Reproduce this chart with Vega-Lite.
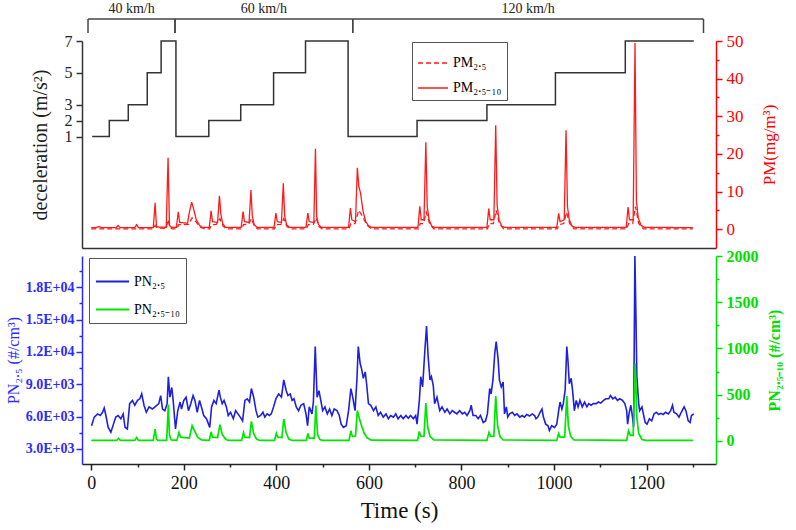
{
  "$schema": "https://vega.github.io/schema/vega-lite/v6.json",
  "description": "Deceleration steps with PM mass and PN number concentrations over time.",
  "background": "white",
  "padding": {"left": 5, "top": 2, "right": 4, "bottom": 2},
  "config": {
    "font": "Liberation Serif",
    "view": {"stroke": null},
    "axis": {"grid": false, "labelFont": "Liberation Serif", "titleFont": "Liberation Serif", "titleFontWeight": "normal", "domainWidth": 1.5, "tickWidth": 1.5, "labelOverlap": false}
  },
  "datasets": {
    "spd": [
      {"speed": "40 km/h", "from": -7, "to": 181},
      {"speed": "60 km/h", "from": 181, "to": 565},
      {"speed": "120 km/h", "from": 565, "to": 1323}
    ],
    "dec": [
      {"t": 2, "a": 1}, {"t": 39, "a": 2}, {"t": 80, "a": 3}, {"t": 121, "a": 5}, {"t": 151, "a": 7},
      {"t": 183, "a": 1}, {"t": 254, "a": 2}, {"t": 323, "a": 3}, {"t": 394, "a": 5}, {"t": 463, "a": 7},
      {"t": 555, "a": 1}, {"t": 704, "a": 2}, {"t": 855, "a": 3}, {"t": 1003, "a": 5}, {"t": 1154, "a": 7},
      {"t": 1302, "a": 7}
    ],
    "pm": [
      {"t": 0, "s": "PM₂.₅", "v": 0.1}, {"t": 134, "s": "PM₂.₅", "v": 0.1}, {"t": 138, "s": "PM₂.₅", "v": 1.0}, {"t": 142, "s": "PM₂.₅", "v": 0.3},
      {"t": 162, "s": "PM₂.₅", "v": 0.2}, {"t": 166, "s": "PM₂.₅", "v": 2.5}, {"t": 170, "s": "PM₂.₅", "v": 0.5}, {"t": 175, "s": "PM₂.₅", "v": 0.1},
      {"t": 185, "s": "PM₂.₅", "v": 0.1}, {"t": 189, "s": "PM₂.₅", "v": 1.2}, {"t": 193, "s": "PM₂.₅", "v": 1.2}, {"t": 210, "s": "PM₂.₅", "v": 1.3},
      {"t": 218, "s": "PM₂.₅", "v": 3.0}, {"t": 226, "s": "PM₂.₅", "v": 2.0}, {"t": 236, "s": "PM₂.₅", "v": 0.5}, {"t": 245, "s": "PM₂.₅", "v": 0.1},
      {"t": 256, "s": "PM₂.₅", "v": 0.1}, {"t": 260, "s": "PM₂.₅", "v": 1.2}, {"t": 270, "s": "PM₂.₅", "v": 1.3}, {"t": 278, "s": "PM₂.₅", "v": 2.8},
      {"t": 285, "s": "PM₂.₅", "v": 0.8}, {"t": 292, "s": "PM₂.₅", "v": 0.1}, {"t": 325, "s": "PM₂.₅", "v": 0.1}, {"t": 329, "s": "PM₂.₅", "v": 1.2},
      {"t": 340, "s": "PM₂.₅", "v": 1.3}, {"t": 346, "s": "PM₂.₅", "v": 2.8}, {"t": 353, "s": "PM₂.₅", "v": 0.7}, {"t": 360, "s": "PM₂.₅", "v": 0.1},
      {"t": 396, "s": "PM₂.₅", "v": 0.1}, {"t": 400, "s": "PM₂.₅", "v": 1.2}, {"t": 410, "s": "PM₂.₅", "v": 1.3}, {"t": 416, "s": "PM₂.₅", "v": 2.8},
      {"t": 423, "s": "PM₂.₅", "v": 0.7}, {"t": 430, "s": "PM₂.₅", "v": 0.1}, {"t": 465, "s": "PM₂.₅", "v": 0.1}, {"t": 469, "s": "PM₂.₅", "v": 1.2},
      {"t": 480, "s": "PM₂.₅", "v": 1.3}, {"t": 486, "s": "PM₂.₅", "v": 3.0}, {"t": 492, "s": "PM₂.₅", "v": 0.7}, {"t": 499, "s": "PM₂.₅", "v": 0.1},
      {"t": 557, "s": "PM₂.₅", "v": 0.1}, {"t": 561, "s": "PM₂.₅", "v": 1.5}, {"t": 570, "s": "PM₂.₅", "v": 1.5}, {"t": 578, "s": "PM₂.₅", "v": 5.0},
      {"t": 586, "s": "PM₂.₅", "v": 3.5}, {"t": 595, "s": "PM₂.₅", "v": 1.2}, {"t": 605, "s": "PM₂.₅", "v": 0.1}, {"t": 707, "s": "PM₂.₅", "v": 0.1},
      {"t": 711, "s": "PM₂.₅", "v": 1.5}, {"t": 718, "s": "PM₂.₅", "v": 1.5}, {"t": 724, "s": "PM₂.₅", "v": 4.5}, {"t": 731, "s": "PM₂.₅", "v": 1.5},
      {"t": 740, "s": "PM₂.₅", "v": 0.1}, {"t": 856, "s": "PM₂.₅", "v": 0.1}, {"t": 860, "s": "PM₂.₅", "v": 1.5}, {"t": 869, "s": "PM₂.₅", "v": 1.5},
      {"t": 875, "s": "PM₂.₅", "v": 5.0}, {"t": 882, "s": "PM₂.₅", "v": 1.5}, {"t": 891, "s": "PM₂.₅", "v": 0.1}, {"t": 1007, "s": "PM₂.₅", "v": 0.1},
      {"t": 1011, "s": "PM₂.₅", "v": 1.2}, {"t": 1021, "s": "PM₂.₅", "v": 1.5}, {"t": 1027, "s": "PM₂.₅", "v": 4.5}, {"t": 1034, "s": "PM₂.₅", "v": 1.5},
      {"t": 1043, "s": "PM₂.₅", "v": 0.1}, {"t": 1157, "s": "PM₂.₅", "v": 0.1}, {"t": 1161, "s": "PM₂.₅", "v": 1.5}, {"t": 1170, "s": "PM₂.₅", "v": 1.5},
      {"t": 1176, "s": "PM₂.₅", "v": 6.0}, {"t": 1183, "s": "PM₂.₅", "v": 1.5}, {"t": 1193, "s": "PM₂.₅", "v": 0.1}, {"t": 1300, "s": "PM₂.₅", "v": 0.1},
      {"t": 0, "s": "PM₂.₅₋₁₀", "v": 0.4}, {"t": 10, "s": "PM₂.₅₋₁₀", "v": 0.4}, {"t": 17, "s": "PM₂.₅₋₁₀", "v": 0.7}, {"t": 22, "s": "PM₂.₅₋₁₀", "v": 0.4},
      {"t": 54, "s": "PM₂.₅₋₁₀", "v": 0.4}, {"t": 58, "s": "PM₂.₅₋₁₀", "v": 1.0}, {"t": 62, "s": "PM₂.₅₋₁₀", "v": 0.4}, {"t": 94, "s": "PM₂.₅₋₁₀", "v": 0.4},
      {"t": 98, "s": "PM₂.₅₋₁₀", "v": 1.2}, {"t": 102, "s": "PM₂.₅₋₁₀", "v": 0.4}, {"t": 134, "s": "PM₂.₅₋₁₀", "v": 0.4}, {"t": 138, "s": "PM₂.₅₋₁₀", "v": 7.0},
      {"t": 141, "s": "PM₂.₅₋₁₀", "v": 0.6}, {"t": 162, "s": "PM₂.₅₋₁₀", "v": 0.5}, {"t": 166, "s": "PM₂.₅₋₁₀", "v": 19}, {"t": 169, "s": "PM₂.₅₋₁₀", "v": 1.0},
      {"t": 173, "s": "PM₂.₅₋₁₀", "v": 0.5}, {"t": 184, "s": "PM₂.₅₋₁₀", "v": 0.5}, {"t": 188, "s": "PM₂.₅₋₁₀", "v": 4.6}, {"t": 191, "s": "PM₂.₅₋₁₀", "v": 1.8},
      {"t": 208, "s": "PM₂.₅₋₁₀", "v": 1.6}, {"t": 212, "s": "PM₂.₅₋₁₀", "v": 4.5}, {"t": 217, "s": "PM₂.₅₋₁₀", "v": 7.2}, {"t": 222, "s": "PM₂.₅₋₁₀", "v": 5.0},
      {"t": 227, "s": "PM₂.₅₋₁₀", "v": 2.5}, {"t": 234, "s": "PM₂.₅₋₁₀", "v": 1.0}, {"t": 240, "s": "PM₂.₅₋₁₀", "v": 0.5}, {"t": 255, "s": "PM₂.₅₋₁₀", "v": 0.5},
      {"t": 259, "s": "PM₂.₅₋₁₀", "v": 4.9}, {"t": 262, "s": "PM₂.₅₋₁₀", "v": 2.0}, {"t": 273, "s": "PM₂.₅₋₁₀", "v": 1.8}, {"t": 277, "s": "PM₂.₅₋₁₀", "v": 8.9},
      {"t": 280, "s": "PM₂.₅₋₁₀", "v": 4.0}, {"t": 284, "s": "PM₂.₅₋₁₀", "v": 1.5}, {"t": 290, "s": "PM₂.₅₋₁₀", "v": 0.5}, {"t": 324, "s": "PM₂.₅₋₁₀", "v": 0.5},
      {"t": 328, "s": "PM₂.₅₋₁₀", "v": 4.7}, {"t": 331, "s": "PM₂.₅₋₁₀", "v": 2.0}, {"t": 341, "s": "PM₂.₅₋₁₀", "v": 1.8}, {"t": 345, "s": "PM₂.₅₋₁₀", "v": 10.4},
      {"t": 348, "s": "PM₂.₅₋₁₀", "v": 3.5}, {"t": 352, "s": "PM₂.₅₋₁₀", "v": 1.2}, {"t": 358, "s": "PM₂.₅₋₁₀", "v": 0.5}, {"t": 395, "s": "PM₂.₅₋₁₀", "v": 0.5},
      {"t": 399, "s": "PM₂.₅₋₁₀", "v": 4.3}, {"t": 402, "s": "PM₂.₅₋₁₀", "v": 2.0}, {"t": 411, "s": "PM₂.₅₋₁₀", "v": 1.8}, {"t": 415, "s": "PM₂.₅₋₁₀", "v": 12.2},
      {"t": 418, "s": "PM₂.₅₋₁₀", "v": 3.5}, {"t": 422, "s": "PM₂.₅₋₁₀", "v": 1.2}, {"t": 428, "s": "PM₂.₅₋₁₀", "v": 0.5}, {"t": 464, "s": "PM₂.₅₋₁₀", "v": 0.5},
      {"t": 468, "s": "PM₂.₅₋₁₀", "v": 4.3}, {"t": 471, "s": "PM₂.₅₋₁₀", "v": 2.0}, {"t": 481, "s": "PM₂.₅₋₁₀", "v": 1.8}, {"t": 484.5, "s": "PM₂.₅₋₁₀", "v": 21.4},
      {"t": 487, "s": "PM₂.₅₋₁₀", "v": 3.5}, {"t": 491, "s": "PM₂.₅₋₁₀", "v": 1.2}, {"t": 497, "s": "PM₂.₅₋₁₀", "v": 0.5}, {"t": 556, "s": "PM₂.₅₋₁₀", "v": 0.5},
      {"t": 560, "s": "PM₂.₅₋₁₀", "v": 5.6}, {"t": 563, "s": "PM₂.₅₋₁₀", "v": 2.5}, {"t": 571, "s": "PM₂.₅₋₁₀", "v": 2.0}, {"t": 575, "s": "PM₂.₅₋₁₀", "v": 16.3},
      {"t": 578, "s": "PM₂.₅₋₁₀", "v": 11.5}, {"t": 582, "s": "PM₂.₅₋₁₀", "v": 9.5}, {"t": 587, "s": "PM₂.₅₋₁₀", "v": 5.0}, {"t": 593, "s": "PM₂.₅₋₁₀", "v": 2.0},
      {"t": 600, "s": "PM₂.₅₋₁₀", "v": 0.8}, {"t": 606, "s": "PM₂.₅₋₁₀", "v": 0.5}, {"t": 706, "s": "PM₂.₅₋₁₀", "v": 0.5}, {"t": 710, "s": "PM₂.₅₋₁₀", "v": 6.1},
      {"t": 713, "s": "PM₂.₅₋₁₀", "v": 2.5}, {"t": 719, "s": "PM₂.₅₋₁₀", "v": 2.5}, {"t": 723, "s": "PM₂.₅₋₁₀", "v": 23.1}, {"t": 726, "s": "PM₂.₅₋₁₀", "v": 6.0},
      {"t": 730, "s": "PM₂.₅₋₁₀", "v": 2.5}, {"t": 736, "s": "PM₂.₅₋₁₀", "v": 0.8}, {"t": 742, "s": "PM₂.₅₋₁₀", "v": 0.5}, {"t": 855, "s": "PM₂.₅₋₁₀", "v": 0.5},
      {"t": 859, "s": "PM₂.₅₋₁₀", "v": 5.5}, {"t": 862, "s": "PM₂.₅₋₁₀", "v": 2.5}, {"t": 870, "s": "PM₂.₅₋₁₀", "v": 2.5}, {"t": 874, "s": "PM₂.₅₋₁₀", "v": 27.6},
      {"t": 877, "s": "PM₂.₅₋₁₀", "v": 6.5}, {"t": 881, "s": "PM₂.₅₋₁₀", "v": 2.5}, {"t": 887, "s": "PM₂.₅₋₁₀", "v": 0.8}, {"t": 893, "s": "PM₂.₅₋₁₀", "v": 0.5},
      {"t": 1006, "s": "PM₂.₅₋₁₀", "v": 0.5}, {"t": 1010, "s": "PM₂.₅₋₁₀", "v": 4.2}, {"t": 1013, "s": "PM₂.₅₋₁₀", "v": 2.0}, {"t": 1022, "s": "PM₂.₅₋₁₀", "v": 2.5},
      {"t": 1026, "s": "PM₂.₅₋₁₀", "v": 26.3}, {"t": 1029, "s": "PM₂.₅₋₁₀", "v": 6.0}, {"t": 1033, "s": "PM₂.₅₋₁₀", "v": 2.5}, {"t": 1039, "s": "PM₂.₅₋₁₀", "v": 0.8},
      {"t": 1045, "s": "PM₂.₅₋₁₀", "v": 0.5}, {"t": 1156, "s": "PM₂.₅₋₁₀", "v": 0.5}, {"t": 1160, "s": "PM₂.₅₋₁₀", "v": 5.9}, {"t": 1163, "s": "PM₂.₅₋₁₀", "v": 2.5},
      {"t": 1171, "s": "PM₂.₅₋₁₀", "v": 2.5}, {"t": 1175, "s": "PM₂.₅₋₁₀", "v": 49.5}, {"t": 1178, "s": "PM₂.₅₋₁₀", "v": 7.5}, {"t": 1182, "s": "PM₂.₅₋₁₀", "v": 3.0},
      {"t": 1188, "s": "PM₂.₅₋₁₀", "v": 1.0}, {"t": 1195, "s": "PM₂.₅₋₁₀", "v": 0.5}, {"t": 1300, "s": "PM₂.₅₋₁₀", "v": 0.4}
    ],
    "pn": [
      {"t": 0.7, "v": 5150}, {"t": 6.5, "v": 5950}, {"t": 13.6, "v": 6250}, {"t": 19.4, "v": 6100}, {"t": 24.4, "v": 6400}, {"t": 28, "v": 6800},
      {"t": 31.6, "v": 6100}, {"t": 36.6, "v": 5000}, {"t": 42.4, "v": 4550}, {"t": 48, "v": 5300}, {"t": 53, "v": 5950}, {"t": 58, "v": 6100},
      {"t": 64, "v": 5800}, {"t": 69, "v": 6250}, {"t": 73, "v": 5000}, {"t": 78, "v": 4850}, {"t": 83, "v": 7200}, {"t": 89, "v": 7500},
      {"t": 94, "v": 7050}, {"t": 100, "v": 7500}, {"t": 105, "v": 7650}, {"t": 109, "v": 8100}, {"t": 114, "v": 7050}, {"t": 119, "v": 6400},
      {"t": 125, "v": 6900}, {"t": 132, "v": 6700}, {"t": 139, "v": 6950}, {"t": 146, "v": 7200}, {"t": 150, "v": 7950}, {"t": 154, "v": 6700},
      {"t": 159, "v": 6550}, {"t": 164, "v": 7200}, {"t": 166.6, "v": 9700}, {"t": 170, "v": 7800}, {"t": 174, "v": 8700}, {"t": 177, "v": 7500},
      {"t": 182, "v": 4850}, {"t": 187, "v": 6550}, {"t": 192, "v": 7350}, {"t": 195, "v": 6700}, {"t": 200, "v": 7500}, {"t": 205, "v": 7800},
      {"t": 210, "v": 6550}, {"t": 215, "v": 7200}, {"t": 220, "v": 7950}, {"t": 224, "v": 7500}, {"t": 229, "v": 6400}, {"t": 234, "v": 7500},
      {"t": 238, "v": 6900}, {"t": 243, "v": 6100}, {"t": 249, "v": 5800}, {"t": 256, "v": 5000}, {"t": 260, "v": 6900}, {"t": 265, "v": 7500},
      {"t": 270, "v": 7200}, {"t": 276, "v": 8450}, {"t": 279, "v": 7800}, {"t": 283, "v": 7200}, {"t": 287, "v": 7500}, {"t": 292, "v": 6900},
      {"t": 296, "v": 6100}, {"t": 301, "v": 6400}, {"t": 307, "v": 5800}, {"t": 312, "v": 6550}, {"t": 317, "v": 6250}, {"t": 322, "v": 5950},
      {"t": 327, "v": 5600}, {"t": 332, "v": 7500}, {"t": 337, "v": 7650}, {"t": 342, "v": 7350}, {"t": 346, "v": 8600}, {"t": 351, "v": 7800},
      {"t": 356, "v": 6550}, {"t": 360, "v": 5950}, {"t": 366, "v": 6100}, {"t": 371, "v": 6400}, {"t": 375, "v": 5950}, {"t": 380, "v": 6250},
      {"t": 385, "v": 6100}, {"t": 389, "v": 6250}, {"t": 394, "v": 6900}, {"t": 399, "v": 7650}, {"t": 405, "v": 8100}, {"t": 411, "v": 7800},
      {"t": 416, "v": 9400}, {"t": 421, "v": 8450}, {"t": 425, "v": 7950}, {"t": 430, "v": 8100}, {"t": 434, "v": 7500}, {"t": 438, "v": 7650},
      {"t": 443, "v": 6900}, {"t": 448, "v": 6550}, {"t": 453, "v": 7050}, {"t": 459, "v": 7200}, {"t": 464, "v": 6250}, {"t": 467.5, "v": 5150},
      {"t": 471, "v": 6900}, {"t": 477, "v": 6250}, {"t": 480, "v": 7350}, {"t": 484, "v": 12500}, {"t": 488, "v": 7800}, {"t": 492, "v": 8400},
      {"t": 496, "v": 7500}, {"t": 500, "v": 6550}, {"t": 505, "v": 6900}, {"t": 510, "v": 6250}, {"t": 515, "v": 6700}, {"t": 520, "v": 6100},
      {"t": 525, "v": 6700}, {"t": 531, "v": 6550}, {"t": 536, "v": 6100}, {"t": 540, "v": 5300}, {"t": 545, "v": 5000}, {"t": 551, "v": 5150},
      {"t": 556, "v": 6550}, {"t": 561, "v": 8600}, {"t": 565, "v": 7800}, {"t": 570, "v": 6550}, {"t": 574, "v": 9400}, {"t": 577, "v": 12500},
      {"t": 581, "v": 10950}, {"t": 584, "v": 10450}, {"t": 588, "v": 9550}, {"t": 592, "v": 10150}, {"t": 595, "v": 9050}, {"t": 599, "v": 7200},
      {"t": 604, "v": 7050}, {"t": 610, "v": 6550}, {"t": 615, "v": 6900}, {"t": 620, "v": 6100}, {"t": 625, "v": 6400}, {"t": 631, "v": 5950},
      {"t": 637, "v": 6250}, {"t": 642, "v": 5800}, {"t": 647, "v": 6100}, {"t": 653, "v": 5950}, {"t": 658, "v": 6250}, {"t": 663, "v": 5800},
      {"t": 669, "v": 6100}, {"t": 674, "v": 5800}, {"t": 680, "v": 6100}, {"t": 685, "v": 5850}, {"t": 690, "v": 6100}, {"t": 696, "v": 5800},
      {"t": 701, "v": 6100}, {"t": 704, "v": 5300}, {"t": 709, "v": 7500}, {"t": 712, "v": 9700}, {"t": 716, "v": 8750}, {"t": 721, "v": 12200},
      {"t": 724.5, "v": 14400}, {"t": 728, "v": 11550}, {"t": 732, "v": 9400}, {"t": 735, "v": 9700}, {"t": 739, "v": 8900}, {"t": 742, "v": 7200},
      {"t": 747, "v": 7800}, {"t": 753, "v": 6550}, {"t": 758, "v": 6900}, {"t": 764, "v": 6400}, {"t": 769, "v": 6700}, {"t": 775, "v": 6250},
      {"t": 780, "v": 6550}, {"t": 785, "v": 6400}, {"t": 790, "v": 6250}, {"t": 796, "v": 6550}, {"t": 802, "v": 6250}, {"t": 807, "v": 6400},
      {"t": 812, "v": 6100}, {"t": 818, "v": 6550}, {"t": 821, "v": 7050}, {"t": 825, "v": 6100}, {"t": 831, "v": 6100}, {"t": 836, "v": 5800},
      {"t": 841, "v": 6100}, {"t": 847, "v": 5450}, {"t": 852, "v": 5600}, {"t": 856, "v": 6250}, {"t": 861, "v": 8600}, {"t": 864, "v": 8100},
      {"t": 868, "v": 9400}, {"t": 872, "v": 11900}, {"t": 875, "v": 12950}, {"t": 879, "v": 11400}, {"t": 882, "v": 9400}, {"t": 886, "v": 8750},
      {"t": 890, "v": 9200}, {"t": 893, "v": 6250}, {"t": 897, "v": 6900}, {"t": 900, "v": 5950}, {"t": 904, "v": 6250}, {"t": 910, "v": 6400},
      {"t": 915, "v": 6100}, {"t": 920, "v": 6250}, {"t": 926, "v": 5950}, {"t": 931, "v": 6100}, {"t": 936, "v": 5950}, {"t": 941, "v": 6200},
      {"t": 947, "v": 6050}, {"t": 953, "v": 6250}, {"t": 958, "v": 6100}, {"t": 961, "v": 5800}, {"t": 965, "v": 5950}, {"t": 970, "v": 6400},
      {"t": 974, "v": 6700}, {"t": 977, "v": 5950}, {"t": 982, "v": 5300}, {"t": 987, "v": 5150}, {"t": 990, "v": 4700}, {"t": 995, "v": 5150},
      {"t": 1001, "v": 5000}, {"t": 1006, "v": 5300}, {"t": 1010, "v": 6550}, {"t": 1013, "v": 7350}, {"t": 1017, "v": 6700}, {"t": 1020, "v": 7200},
      {"t": 1024, "v": 8450}, {"t": 1027.6, "v": 12500}, {"t": 1030, "v": 11250}, {"t": 1033, "v": 9050}, {"t": 1037, "v": 9550}, {"t": 1040, "v": 8450},
      {"t": 1044, "v": 6550}, {"t": 1048, "v": 7500}, {"t": 1052, "v": 6900}, {"t": 1056, "v": 7500}, {"t": 1061, "v": 6900}, {"t": 1066, "v": 7350},
      {"t": 1071, "v": 6900}, {"t": 1075, "v": 7200}, {"t": 1080, "v": 7050}, {"t": 1085, "v": 7200}, {"t": 1091, "v": 7200}, {"t": 1096, "v": 7350},
      {"t": 1101, "v": 7250}, {"t": 1107, "v": 7500}, {"t": 1112, "v": 7650}, {"t": 1118, "v": 7650}, {"t": 1122, "v": 7950}, {"t": 1127, "v": 7650},
      {"t": 1132, "v": 7800}, {"t": 1137, "v": 7500}, {"t": 1142, "v": 7650}, {"t": 1148, "v": 7500}, {"t": 1153, "v": 7200}, {"t": 1157, "v": 6550},
      {"t": 1159, "v": 5300}, {"t": 1162, "v": 6250}, {"t": 1166, "v": 7050}, {"t": 1170, "v": 5800}, {"t": 1172, "v": 5000}, {"t": 1174.7, "v": 20900},
      {"t": 1177, "v": 15300}, {"t": 1179, "v": 9700}, {"t": 1183, "v": 7200}, {"t": 1185, "v": 6550}, {"t": 1190, "v": 6900}, {"t": 1193, "v": 6250},
      {"t": 1197, "v": 5450}, {"t": 1201, "v": 5300}, {"t": 1206, "v": 5800}, {"t": 1211, "v": 5600}, {"t": 1216, "v": 6250}, {"t": 1221, "v": 6400},
      {"t": 1226, "v": 6200}, {"t": 1231, "v": 6300}, {"t": 1236, "v": 6200}, {"t": 1241, "v": 6400}, {"t": 1247, "v": 6250}, {"t": 1252, "v": 6550},
      {"t": 1256, "v": 7050}, {"t": 1259, "v": 6400}, {"t": 1265, "v": 6250}, {"t": 1270, "v": 5950}, {"t": 1275, "v": 6400}, {"t": 1281, "v": 6900},
      {"t": 1285, "v": 6550}, {"t": 1290, "v": 5600}, {"t": 1294, "v": 5450}, {"t": 1297, "v": 6100}, {"t": 1302, "v": 6250}
    ],
    "pc": [
      {"t": 0, "v": 5}, {"t": 55, "v": 5}, {"t": 59, "v": 29}, {"t": 63, "v": 5}, {"t": 94, "v": 5}, {"t": 98, "v": 36}, {"t": 102, "v": 5},
      {"t": 134, "v": 5}, {"t": 138, "v": 128}, {"t": 141, "v": 20}, {"t": 144, "v": 5}, {"t": 163, "v": 5}, {"t": 166.6, "v": 393}, {"t": 169, "v": 60},
      {"t": 173, "v": 10}, {"t": 185, "v": 5}, {"t": 189.6, "v": 91}, {"t": 193, "v": 40}, {"t": 212, "v": 30}, {"t": 218, "v": 164}, {"t": 223, "v": 110},
      {"t": 230, "v": 40}, {"t": 238, "v": 10}, {"t": 255, "v": 5}, {"t": 259, "v": 98}, {"t": 262, "v": 40}, {"t": 273, "v": 35}, {"t": 278, "v": 175},
      {"t": 283, "v": 70}, {"t": 290, "v": 20}, {"t": 296, "v": 5}, {"t": 325, "v": 5}, {"t": 329, "v": 91}, {"t": 332, "v": 40}, {"t": 342, "v": 35},
      {"t": 346, "v": 211}, {"t": 351, "v": 80}, {"t": 357, "v": 20}, {"t": 364, "v": 5}, {"t": 396, "v": 5}, {"t": 400, "v": 84}, {"t": 403, "v": 40},
      {"t": 412, "v": 35}, {"t": 416, "v": 237}, {"t": 421, "v": 90}, {"t": 427, "v": 20}, {"t": 434, "v": 5}, {"t": 465, "v": 5}, {"t": 468, "v": 80},
      {"t": 471, "v": 30}, {"t": 482, "v": 30}, {"t": 485.4, "v": 383}, {"t": 489, "v": 70}, {"t": 494, "v": 15}, {"t": 500, "v": 5}, {"t": 557, "v": 5},
      {"t": 561, "v": 109}, {"t": 564, "v": 50}, {"t": 571, "v": 50}, {"t": 575, "v": 328}, {"t": 580, "v": 230}, {"t": 585, "v": 150}, {"t": 590, "v": 80},
      {"t": 597, "v": 30}, {"t": 605, "v": 8}, {"t": 705, "v": 5}, {"t": 709, "v": 102}, {"t": 712, "v": 50}, {"t": 719, "v": 50}, {"t": 723, "v": 408},
      {"t": 727, "v": 150}, {"t": 732, "v": 50}, {"t": 740, "v": 10}, {"t": 855, "v": 5}, {"t": 859.5, "v": 91}, {"t": 863, "v": 50}, {"t": 870, "v": 50},
      {"t": 874, "v": 484}, {"t": 878, "v": 170}, {"t": 883, "v": 50}, {"t": 890, "v": 10}, {"t": 1006, "v": 5}, {"t": 1010, "v": 80}, {"t": 1013, "v": 40},
      {"t": 1023, "v": 40}, {"t": 1027.6, "v": 484}, {"t": 1031, "v": 160}, {"t": 1036, "v": 50}, {"t": 1043, "v": 10}, {"t": 1157, "v": 5},
      {"t": 1161, "v": 109}, {"t": 1165, "v": 60}, {"t": 1171, "v": 60}, {"t": 1175.5, "v": 838}, {"t": 1179, "v": 250}, {"t": 1183, "v": 80},
      {"t": 1190, "v": 15}, {"t": 1198, "v": 5}, {"t": 1300, "v": 5}
    ]
  },
  "spacing": 8,
  "bounds": "flush",
  "resolve": {"scale": {"color": "independent", "strokeDash": "independent"}},
  "vconcat": [
    {
      "width": 634,
      "height": 14,
      "data": {"name": "spd"},
      "layer": [
        {
          "mark": {"type": "rule", "color": "#444", "strokeWidth": 1.5},
          "encoding": {
            "x": {"field": "from", "type": "quantitative", "scale": {"domain": [-20, 1350], "nice": false, "zero": false}, "axis": null},
            "x2": {"field": "to"},
            "y": {"datum": 1, "type": "quantitative", "scale": {"domain": [0, 1]}, "axis": null}
          }
        },
        {
          "mark": {"type": "rule", "color": "#444", "strokeWidth": 1.5},
          "encoding": {
            "x": {"field": "from", "type": "quantitative", "scale": {"domain": [-20, 1350], "nice": false, "zero": false}, "axis": null},
            "y": {"datum": 0, "type": "quantitative", "axis": null},
            "y2": {"datum": 1}
          }
        },
        {
          "mark": {"type": "rule", "color": "#444", "strokeWidth": 1.5},
          "encoding": {
            "x": {"field": "to", "type": "quantitative", "scale": {"domain": [-20, 1350], "nice": false, "zero": false}, "axis": null},
            "y": {"datum": 0, "type": "quantitative", "axis": null},
            "y2": {"datum": 1}
          }
        },
        {
          "transform": [{"calculate": "(datum.from + datum.to) / 2", "as": "mid"}],
          "mark": {"type": "text", "baseline": "bottom", "dy": -3, "fontSize": 14, "font": "Liberation Serif", "color": "#222"},
          "encoding": {
            "x": {"field": "mid", "type": "quantitative", "scale": {"domain": [-20, 1350], "nice": false, "zero": false}, "axis": null},
            "y": {"datum": 1, "type": "quantitative", "axis": null},
            "text": {"field": "speed"}
          }
        }
      ]
    },
    {
      "width": 634,
      "height": 207,
      "resolve": {"scale": {"y": "independent"}},
      "layer": [
        {
          "data": {"name": "dec"},
          "mark": {"type": "line", "interpolate": "step-after", "color": "#333", "strokeWidth": 1.5},
          "encoding": {
            "x": {"field": "t", "type": "quantitative", "scale": {"domain": [-20, 1350], "nice": false, "zero": false},
                  "axis": {"labels": false, "ticks": false, "title": null, "domainColor": "#333"}},
            "y": {"field": "a", "type": "quantitative", "scale": {"domain": [-6, 7], "nice": false, "zero": false},
                  "axis": {"orient": "left", "values": [1, 2, 3, 5, 7], "title": "deceleration (m/s²)", "titleFontSize": 20, "titlePadding": 14,
                           "labelFontSize": 16, "labelPadding": 4, "tickSize": 6, "domainColor": "#333", "tickColor": "#333", "labelColor": "#222", "titleColor": "#222"}}
          }
        },
        {
          "data": {"name": "pm"},
          "mark": {"type": "line", "strokeWidth": 1.3},
          "encoding": {
            "x": {"field": "t", "type": "quantitative", "scale": {"domain": [-20, 1350], "nice": false, "zero": false},
                  "axis": {"labels": false, "ticks": false, "title": null, "domainColor": "#333"}},
            "y": {"field": "v", "type": "quantitative", "scale": {"domain": [-5, 50], "nice": false, "zero": false},
                  "axis": {"orient": "right", "values": [0, 5, 10, 15, 20, 25, 30, 35, 40, 45, 50],
                           "labelExpr": "datum.value % 10 === 0 ? datum.label : ''",
                           "tickSize": {"condition": {"test": "datum.value % 10 === 0", "value": 6}, "value": 3},
                           "title": "PM(mg/m³)", "titleAngle": 270, "titleBaseline": "top", "titleFontSize": 17, "titlePadding": 18,
                           "labelFontSize": 17, "labelPadding": 4, "domainColor": "red", "tickColor": "red", "labelColor": "red", "titleColor": "red"}},
            "color": {"field": "s", "type": "nominal", "scale": {"domain": ["PM₂.₅", "PM₂.₅₋₁₀"], "range": ["#ff1a1a", "#ff1a1a"]},
                      "legend": {"title": null, "orient": "none", "legendX": 330, "legendY": 1, "strokeColor": "#555", "fillColor": "white", "padding": 5,
                                 "labelFont": "Liberation Serif", "labelFontSize": 14, "symbolType": "stroke", "symbolSize": 900, "symbolStrokeWidth": 1.5, "rowPadding": 2}},
            "strokeDash": {"field": "s", "type": "nominal", "scale": {"domain": ["PM₂.₅", "PM₂.₅₋₁₀"], "range": [[5, 3], [1, 0]]},
                           "legend": {"title": null, "orient": "none", "legendX": 330, "legendY": 1, "strokeColor": "#555", "fillColor": "white", "padding": 5,
                                      "labelFont": "Liberation Serif", "labelFontSize": 14, "symbolType": "stroke", "symbolSize": 900, "symbolStrokeWidth": 1.5, "rowPadding": 2}}
          }
        }
      ]
    },
    {
      "width": 634,
      "height": 208,
      "resolve": {"scale": {"y": "independent"}},
      "layer": [
        {
          "data": {"name": "pn"},
          "transform": [{"calculate": "'PN₂.₅'", "as": "s"}],
          "mark": {"type": "line", "strokeWidth": 1.6},
          "encoding": {
            "x": {"field": "t", "type": "quantitative", "scale": {"domain": [-20, 1350], "nice": false, "zero": false},
                  "axis": {"title": "Time (s)", "values": [0, 100, 200, 300, 400, 500, 600, 700, 800, 900, 1000, 1100, 1200, 1300], "format": "d",
                           "labelExpr": "datum.value % 200 === 0 ? datum.label : ''",
                           "tickSize": {"condition": {"test": "datum.value % 200 === 0", "value": 6}, "value": 3},
                           "labelFontSize": 18, "titleFontSize": 23, "labelPadding": 4, "titlePadding": 7,
                           "domainColor": "#222", "tickColor": "#222", "labelColor": "#111", "titleColor": "#111"}},
            "y": {"field": "v", "type": "quantitative", "scale": {"domain": [1600, 20900], "nice": false, "zero": false},
                  "axis": {"orient": "left", "values": [3000, 4500, 6000, 7500, 9000, 10500, 12000, 13500, 15000, 16500, 18000, 19500],
                           "labelExpr": "datum.value % 3000 === 0 ? (datum.value >= 10000 ? format(datum.value / 10000, '.1f') + 'E+04' : format(datum.value / 1000, '.1f') + 'E+03') : ''",
                           "tickSize": {"condition": {"test": "datum.value % 3000 === 0", "value": 6}, "value": 3},
                           "title": "PN₂.₅ (#/cm³)", "titleFontSize": 16, "titlePadding": 4,
                           "labelFontSize": 14, "labelFontWeight": "bold", "labelPadding": 2,
                           "domainColor": "#2b2bff", "tickColor": "#2b2bff", "labelColor": "#2b2bff", "titleColor": "#2b2bff"}},
            "color": {"field": "s", "type": "nominal", "scale": {"domain": ["PN₂.₅", "PN₂.₅₋₁₀"], "range": ["#1f1fe0", "#00e600"]},
                      "legend": {"title": null, "orient": "none", "legendX": 7, "legendY": 2, "strokeColor": "#555", "fillColor": "white", "padding": 6,
                                 "labelFont": "Liberation Serif", "labelFontSize": 14, "symbolType": "stroke", "symbolSize": 1100, "symbolStrokeWidth": 1.8, "rowPadding": 3}}
          }
        },
        {
          "data": {"name": "pc"},
          "transform": [{"calculate": "'PN₂.₅₋₁₀'", "as": "s"}],
          "mark": {"type": "line", "strokeWidth": 1.7},
          "encoding": {
            "x": {"field": "t", "type": "quantitative", "scale": {"domain": [-20, 1350], "nice": false, "zero": false},
                  "axis": {"title": "Time (s)", "values": [0, 100, 200, 300, 400, 500, 600, 700, 800, 900, 1000, 1100, 1200, 1300], "format": "d",
                           "labelExpr": "datum.value % 200 === 0 ? datum.label : ''",
                           "tickSize": {"condition": {"test": "datum.value % 200 === 0", "value": 6}, "value": 3},
                           "labelFontSize": 18, "titleFontSize": 23, "labelPadding": 4, "titlePadding": 7,
                           "domainColor": "#222", "tickColor": "#222", "labelColor": "#111", "titleColor": "#111"}},
            "y": {"field": "v", "type": "quantitative", "scale": {"domain": [-250, 2000], "nice": false, "zero": false},
                  "axis": {"orient": "right", "values": [0, 250, 500, 750, 1000, 1250, 1500, 1750, 2000], "format": "d",
                           "labelExpr": "datum.value % 500 === 0 ? datum.label : ''",
                           "tickSize": {"condition": {"test": "datum.value % 500 === 0", "value": 6}, "value": 3},
                           "title": "PN₂.₅₋₁₀ (#/cm³)", "titleAngle": 270, "titleBaseline": "top", "titleFontSize": 16, "titleFontWeight": "bold", "titlePadding": 8,
                           "labelFontSize": 16, "labelFontWeight": "bold", "labelPadding": 4,
                           "domainColor": "#00dd00", "tickColor": "#00dd00", "labelColor": "#00dd00", "titleColor": "#00dd00"}},
            "color": {"field": "s", "type": "nominal", "scale": {"domain": ["PN₂.₅", "PN₂.₅₋₁₀"], "range": ["#1f1fe0", "#00e600"]},
                      "legend": {"title": null, "orient": "none", "legendX": 7, "legendY": 2, "strokeColor": "#555", "fillColor": "white", "padding": 6,
                                 "labelFont": "Liberation Serif", "labelFontSize": 14, "symbolType": "stroke", "symbolSize": 1100, "symbolStrokeWidth": 1.8, "rowPadding": 3}}
          }
        }
      ]
    }
  ]
}
